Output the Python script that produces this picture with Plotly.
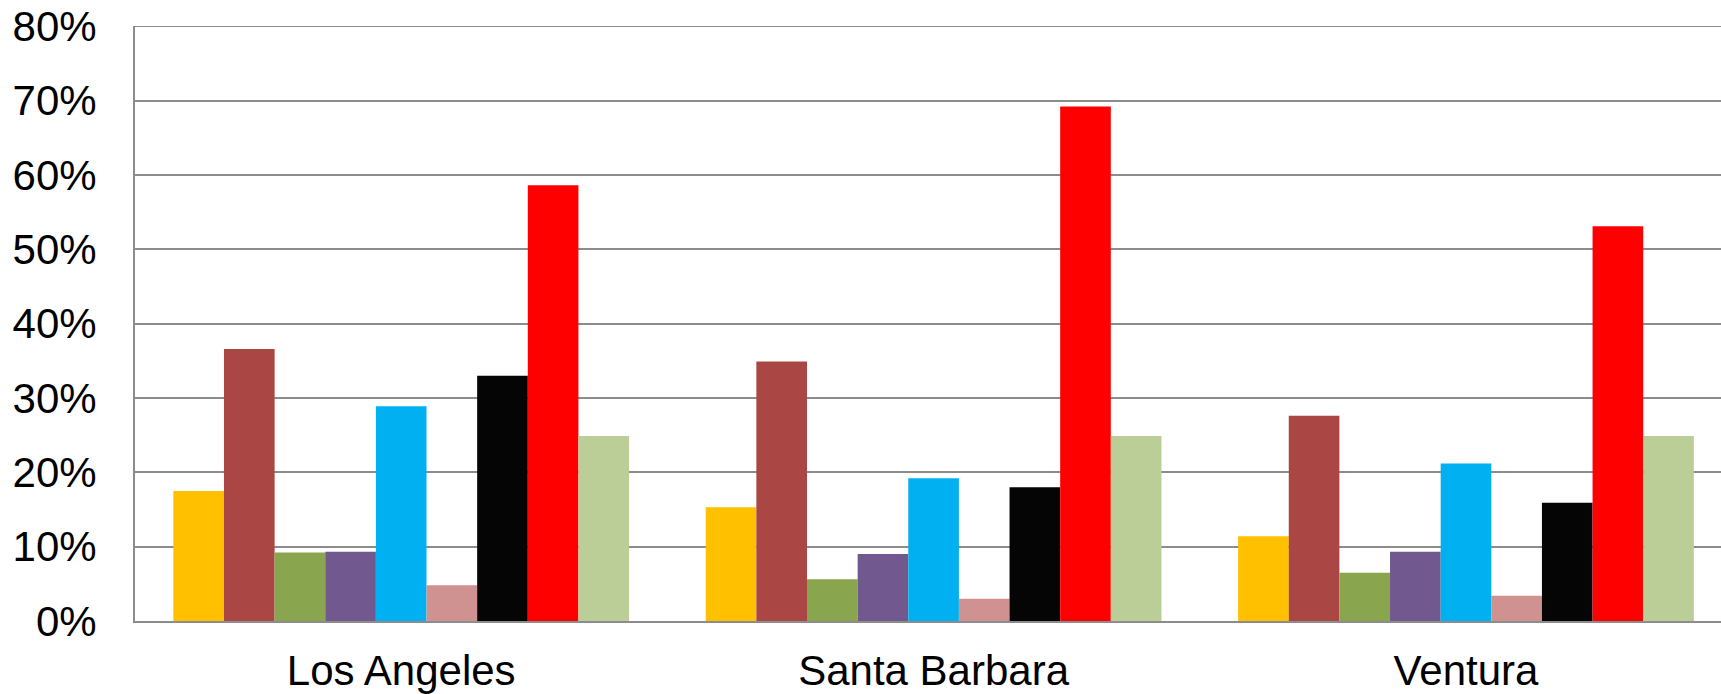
import plotly.graph_objects as go

categories = ["Los Angeles", "Santa Barbara", "Ventura"]
series_names = ["Series 1", "Series 2", "Series 3", "Series 4", "Series 5",
                "Series 6", "Series 7", "Series 8", "Series 9"]
s1 = [0.175, 0.153, 0.114]
s2 = [0.366, 0.349, 0.276]
s3 = [0.092, 0.056, 0.065]
s4 = [0.093, 0.090, 0.093]
s5 = [0.289, 0.192, 0.212]
s6 = [0.048, 0.030, 0.034]
s7 = [0.330, 0.180, 0.159]
s8 = [0.586, 0.692, 0.531]
s9 = [0.249, 0.249, 0.249]
colors = ["#FFC000", "#AA4643", "#89A54E", "#71588F", "#00B0F0",
          "#D09291", "#050505", "#FF0000", "#BBCE97"]
y_ticks = [0, 0.1, 0.2, 0.3, 0.4, 0.5, 0.6, 0.7, 0.8]
y_ticktext = ["0%", "10%", "20%", "30%", "40%", "50%", "60%", "70%", "80%"]

all_series = [s1, s2, s3, s4, s5, s6, s7, s8, s9]

fig = go.Figure()
for name, vals, col in zip(series_names, all_series, colors):
    fig.add_trace(go.Bar(x=categories, y=vals, name=name,
                         marker=dict(color=col, line=dict(width=0))))

# top gridline at the last tick
fig.add_shape(type="line", xref="paper", yref="y", x0=0, x1=1,
              y0=y_ticks[-1], y1=y_ticks[-1],
              line=dict(color="#8c8c8c", width=1.5), layer="below")

fig.update_layout(
    width=1721, height=694,
    margin=dict(l=135, r=0, t=26, b=73),
    paper_bgcolor="white", plot_bgcolor="white",
    barmode="group", bargap=0.144, bargroupgap=0,
    showlegend=False,
    font=dict(family="Liberation Sans, Arial, sans-serif", size=42, color="black"),
)
fig.update_xaxes(
    type="category", range=[-0.5, 2.479], automargin=False,
    showline=True, linecolor="#8c8c8c", linewidth=2,
    showgrid=False, ticks="", ticklabelstandoff=12,
    tickfont=dict(size=42),
)
fig.update_yaxes(
    range=[0, 0.8003], tickmode="array", tickvals=y_ticks, ticktext=y_ticktext,
    automargin=False, ticklabeloverflow="allow",
    showline=True, linecolor="#8c8c8c", linewidth=2,
    showgrid=True, gridcolor="#8c8c8c", gridwidth=1.5,
    zeroline=False, ticks="", ticklabelstandoff=28,
    tickfont=dict(size=42),
)

fig.write_html(
    "out.html",
    config={"displayModeBar": False},
    post_script="document.body.style.margin='0px';document.body.style.overflow='hidden';",
)
